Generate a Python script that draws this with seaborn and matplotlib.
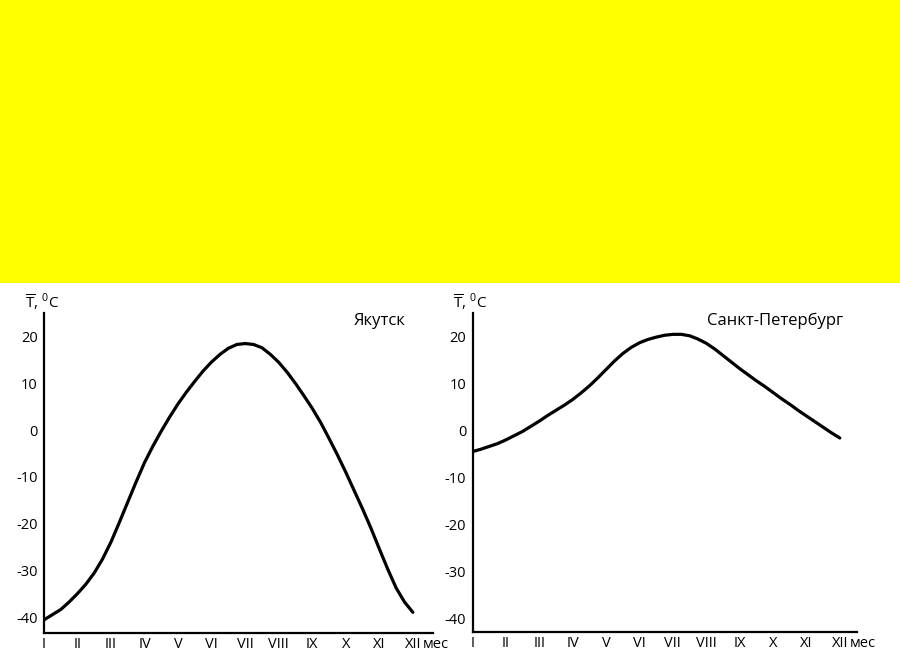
import numpy as np
import pandas as pd
import matplotlib
matplotlib.use("Agg")
import matplotlib.pyplot as plt
from matplotlib.patches import Rectangle
import seaborn as sns

# ----- data (month index 0 = I ... 11 = XII, quarter-month steps) -----
month_pos = [0, 0.25, 0.5, 0.75, 1, 1.25, 1.5, 1.75, 2, 2.25, 2.5, 2.75,
             3, 3.25, 3.5, 3.75, 4, 4.25, 4.5, 4.75, 5, 5.25, 5.5, 5.75,
             6, 6.25, 6.5, 6.75, 7, 7.25, 7.5, 7.75, 8, 8.25, 8.5, 8.75,
             9, 9.25, 9.5, 9.75, 10, 10.25, 10.5, 10.75, 11]
t_yakutsk = [-40.4, -39.3, -38.2, -36.6, -34.8, -32.8, -30.4, -27.4, -23.8, -19.6, -15.3, -11.0,
             -6.9, -3.4, -0.2, 2.8, 5.6, 8.1, 10.4, 12.6, 14.5, 16.1, 17.4, 18.2,
             18.4, 18.2, 17.5, 16.1, 14.4, 12.3, 9.9, 7.3, 4.6, 1.6, -1.8, -5.3,
             -9.0, -12.9, -16.8, -20.9, -25.3, -29.6, -33.6, -36.6, -38.8]
t_spb = [-4.5, -4.0, -3.4, -2.8, -2.0, -1.1, -0.2, 0.9, 2.0, 3.2, 4.3, 5.4,
         6.6, 8.0, 9.5, 11.2, 13.0, 14.8, 16.4, 17.7, 18.7, 19.4, 19.9, 20.3,
         20.5, 20.5, 20.2, 19.5, 18.6, 17.4, 16.0, 14.6, 13.2, 11.9, 10.6, 9.4,
         8.1, 6.8, 5.6, 4.3, 3.1, 1.9, 0.7, -0.5, -1.6]
month_labels = ["I", "II", "III", "IV", "V", "VI", "VII", "VIII", "IX", "X", "XI", "XII"]
y_ticks = [20, 10, 0, -10, -20, -30, -40]

df_yak = pd.DataFrame({"month": month_pos, "T": t_yakutsk})
df_spb = pd.DataFrame({"month": month_pos, "T": t_spb})

sns.set_style("white")
plt.rcParams["font.family"] = ["Open Sans", "DejaVu Sans"]
plt.rcParams["mathtext.fontset"] = "custom"
plt.rcParams["mathtext.rm"] = "Open Sans"
plt.rcParams["text.color"] = "black"

fig = plt.figure(figsize=(9, 6.54), dpi=100)
fig.patch.set_facecolor("white")
# yellow band across the top
fig.patches.append(Rectangle((0, 1 - 283 / 654), 1, 283 / 654, transform=fig.transFigure,
                             facecolor="#ffff00", edgecolor="none", zorder=0))

ax_l = fig.add_axes([44 / 900, 1 - 633 / 654, 389 / 900, 320 / 654])
ax_r = fig.add_axes([472.5 / 900, 1 - 631.7 / 654, 384 / 900, 318.7 / 654])

panels = [(ax_l, df_yak, "Якутск", 405, (0, 11.6), (-43.2, 24.9)),
          (ax_r, df_spb, "Санкт-Петербург", 843, (0, 11.5), (-42.9, 25.05))]

for ax, df, name, name_right, xlim, ylim in panels:
    ax.set_facecolor("none")
    sns.lineplot(data=df, x="month", y="T", ax=ax, color="black", linewidth=2.3)
    ax.set_xlim(*xlim)
    ax.set_ylim(*ylim)
    ax.set_xticks(range(12))
    ax.set_xticklabels(month_labels)
    ax.set_yticks(y_ticks)
    ax.set_yticklabels([str(v) for v in y_ticks])
    ax.tick_params(axis="x", direction="in", length=3, width=1, pad=3, labelsize=10.5, colors="black")
    ax.tick_params(axis="y", direction="out", length=3, width=1, pad=1.5, labelsize=10.5, colors="black")
    for side in ["top", "right"]:
        ax.spines[side].set_visible(False)
    for side in ["left", "bottom"]:
        ax.spines[side].set_color("black")
        ax.spines[side].set_linewidth(1.6)
    ax.set_xlabel("")
    ax.set_ylabel("")
    # "мес" after the XII label
    ax.annotate("мес", xy=(11, 0), xycoords=("data", "axes fraction"),
                xytext=(7, -3), textcoords="offset points", ha="left", va="top", fontsize=10.5)
    # axis caption
    ax.annotate(r"$\overline{\mathrm{T}}$, $^{0}$C", xy=(0, 1), xycoords="axes fraction",
                xytext=(-14, 1), textcoords="offset points", ha="left", va="bottom", fontsize=11)
    # city name
    fig.text(name_right / 900, 1 - 321 / 654, name, ha="right", va="center", fontsize=12)

fig.savefig("out.png", dpi=100, facecolor="white")
